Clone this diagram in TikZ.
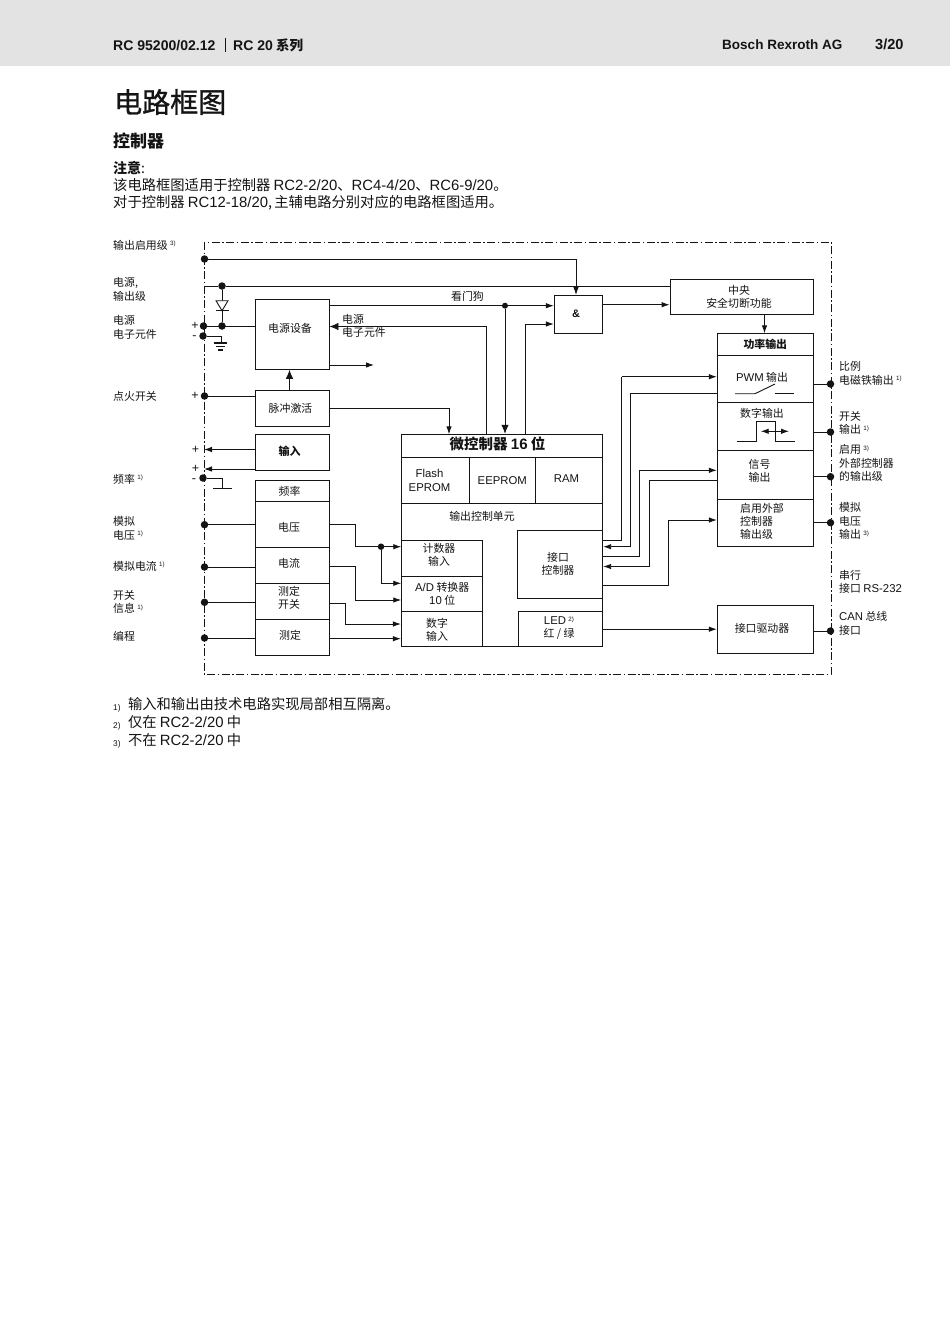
\documentclass[tikz,border=0pt]{standalone}
\usepackage{fontspec}
\setmainfont{Noto Sans CJK SC}
\newfontfamily\latfont[Scale=1.04]{Liberation Sans}
\newfontfamily\titlefont[FakeBold=1.2]{Noto Sans CJK SC}
\usetikzlibrary{arrows.meta}
\definecolor{header_gray}{HTML}{E3E3E3}
\definecolor{ink_black}{HTML}{141414}
\newcommand{\fnote}[1]{\raisebox{3.5pt}{\fontsize{6}{7}\selectfont\latfont #1)}}
\newcommand{\lat}[1]{{\latfont #1}}
\tikzset{
	wire/.style={line width=0.9pt, draw=ink_black},
	flow/.style={wire, -{Latex[length=8pt,width=5.5pt]}},
	bigflow/.style={wire, -{Latex[length=9pt,width=7.5pt]}},
	blockbox/.style={draw=ink_black, line width=0.9pt, inner sep=0pt, minimum width=#1, align=center, text=ink_black,
		font=\fontsize{10.9}{13}\selectfont},
	blockbox/.default=74pt,
	portdot/.style={circle, fill=ink_black, inner sep=0pt, minimum size=7.5pt},
	sidelabel/.style={anchor=west, align=left, inner sep=0pt, text=ink_black, font=\fontsize{10.9}{13.5}\selectfont},
	boxtext/.style={align=center, inner sep=0pt, text=ink_black, font=\fontsize{10.9}{13}\selectfont},
	sign/.style={inner sep=0pt, text=ink_black, font=\fontsize{12}{13}\selectfont\latfont},
	pagetext/.style={anchor=west, align=left, inner sep=0pt, text=ink_black, font=\fontsize{14.3}{17}\selectfont},
}
\begin{document}
\begin{tikzpicture}[x=1pt, y=-1pt]
	\useasboundingbox (0,0) rectangle (950,1344);
	% header band
	\fill [header_gray] (0,0) rectangle (950,66);
	\node [pagetext, font=\fontsize{13.5}{15}\selectfont\bfseries\latfont] (docno) at (113,45.5) {RC 95200/02.12};
	\draw [wire] (225,38) -- (225,52);
	\node [pagetext, font=\fontsize{13.5}{15}\selectfont\bfseries] (series) at (233,45) {\lat{RC 20} 系列};
	\node [pagetext, font=\fontsize{13}{15}\selectfont\bfseries\latfont] (company) at (722,44.5) {Bosch Rexroth AG};
	\node [pagetext, font=\fontsize{14}{15}\selectfont\bfseries\latfont] (pageno) at (875,44.5) {3/20};
	% titles and note
	\node [pagetext, font=\fontsize{28}{32}\selectfont\titlefont] (title) at (114,102) {电路框图};
	\node [pagetext, font=\fontsize{17}{20}\selectfont\bfseries] (subtitle) at (113,141) {控制器};
	\node [pagetext, font=\fontsize{14}{17}\selectfont\bfseries] (notehead) at (113,168) {注意\textmd{:}};
	\node [pagetext] (noteone) at (113,185) {该电路框图适用于控制器 \lat{RC2-2/20}、\lat{RC4-4/20}、\lat{RC6-9/20}。};
	\node [pagetext] (notetwo) at (113,202.5) {对于控制器 \lat{RC12-18/20},\,主辅电路分别对应的电路框图适用。};
	% dash-dot frame
	\draw [line width=0.8pt, draw=ink_black, dash pattern=on 8pt off 2.5pt on 1.5pt off 2.5pt] (204,242) rectangle (831,674);
	% left side blocks
	\node [blockbox, minimum height=70pt] (psu) at (292,334.3) {};
	\node [boxtext] (psutext) at (290,328) {电源设备};
	\node [blockbox, minimum height=36pt] (pulse) at (292,408.7) {};
	\node [boxtext] (pulsetext) at (290.5,408) {脉冲激活};
	\node [blockbox, minimum height=35.7pt] (inbox) at (292,452.2) {};
	\node [boxtext, font=\fontsize{11}{13}\selectfont\bfseries] (inboxtext) at (289.5,451) {输入};
	\node [blockbox, minimum height=21.4pt] (freq) at (292,491) {};
	\node [boxtext] (freqtext) at (289.5,491) {频率};
	\node [blockbox, minimum height=45.6pt] (volt) at (292,524.5) {};
	\node [boxtext] (volttext) at (289,527) {电压};
	\node [blockbox, minimum height=36pt] (curr) at (292,565.3) {};
	\node [boxtext] (currtext) at (289,563) {电流};
	\node [blockbox, minimum height=36.4pt] (swit) at (292,601.5) {};
	\node [boxtext] (swittext) at (289,598) {测定\\开关};
	\node [blockbox, minimum height=35.3pt] (meas) at (292,637.3) {};
	\node [boxtext] (meastext) at (290,635) {测定};
	% microcontroller
	\node [blockbox=201pt, minimum height=23pt] (mcutitle) at (502.2,445.8) {};
	\node [boxtext, font=\fontsize{14.5}{16}\selectfont\bfseries] (mcutext) at (497.5,444) {微控制器 \lat{16} 位};
	\node [blockbox=67.6pt, minimum height=46pt] (flash) at (435.5,480.3) {};
	\node [boxtext, font=\fontsize{10.9}{14}\selectfont\latfont] (flashtext) at (429.5,480) {Flash\\EPROM};
	\node [blockbox=66pt, minimum height=46pt, font=\fontsize{10.9}{13}\selectfont\latfont] (eeprom) at (502.3,480.3) {EEPROM};
	\node [blockbox=67.4pt, minimum height=46pt] (ram) at (569,480.3) {};
	\node [boxtext, font=\fontsize{10.9}{13}\selectfont\latfont] (ramtext) at (566.5,479) {RAM};
	\node [blockbox=201pt, minimum height=143.4pt] (mcubody) at (502.2,575) {};
	\node [boxtext] (ctrlunit) at (482,516) {输出控制单元};
	\node [blockbox=81pt, minimum height=35.6pt] (counter) at (442.2,558.5) {};
	\node [boxtext] (countertext) at (439,554.5) {计数器\\输入};
	\node [blockbox=81pt, minimum height=35.4pt] (adc) at (442.2,594) {\lat{A/D} 转换器\\\lat{10} 位};
	\node [blockbox=81pt, minimum height=35pt, line width=1.5pt] (digin) at (442.2,629.2) {};
	\node [boxtext] (digintext) at (437,630) {数字\\输入};
	\node [blockbox=85pt, minimum height=68pt] (ifc) at (560.2,564.3) {};
	\node [boxtext] (ifctext) at (558,563.5) {接口\\控制器};
	\node [blockbox=84pt, minimum height=35.7pt] (led) at (560.7,628.8) {};
	\node [boxtext] (ledtext) at (559,628) {\lat{LED} \fnote{2}\\红 / 绿};
	% safety chain
	\node [blockbox=48.4pt, minimum height=38.3pt] (andgate) at (578.5,314.2) {};
	\node [boxtext, font=\fontsize{10.5}{12}\selectfont\bfseries\latfont] (andtext) at (576,314) {\&};
	\node [blockbox=143.3pt, minimum height=35.3pt] (safety) at (741.7,296.7) {};
	\node [boxtext] (safetytext) at (739,296.5) {中央\\安全切断功能};
	% power output stack
	\node [blockbox=96pt, minimum height=22pt, font=\fontsize{10.9}{13}\selectfont\bfseries] (powtitle) at (765.3,344.3) {功率输出};
	\node [blockbox=96pt, minimum height=47pt] (pwm) at (765.3,378.8) {};
	\node [boxtext] (pwmtext) at (762,377) {\lat{PWM} 输出};
	\node [blockbox=96pt, minimum height=48pt] (digout) at (765.3,426.3) {};
	\node [boxtext] (digouttext) at (762,413) {数字输出};
	\node [blockbox=96pt, minimum height=48.7pt] (sigout) at (765.3,474.7) {};
	\node [boxtext] (sigouttext) at (759.5,471) {信号\\输出};
	\node [blockbox=96pt, minimum height=47.3pt] (enout) at (765.3,522.7) {};
	\node [boxtext, align=left, anchor=west] (enouttext) at (740,521) {启用外部\\控制器\\输出级};
	\node [blockbox=96pt, minimum height=48.3pt] (canbox) at (765.3,629.2) {};
	\node [boxtext] (cantext) at (762,628) {接口驱动器};
	% ports on the frame
	\node [portdot] (enable) at (204.5,259) {};
	\node [portdot] (powfork) at (222,286) {};
	\node [portdot] (elecplus) at (203.5,326) {};
	\node [portdot] (diodefoot) at (222,326) {};
	\node [portdot] (elecminus) at (203,336) {};
	\node [portdot] (ignition) at (204.5,396) {};
	\node [portdot] (freqminus) at (203,478) {};
	\node [portdot] (voltin) at (204.5,524.7) {};
	\node [portdot] (currin) at (204.5,567) {};
	\node [portdot] (switin) at (204.5,602.3) {};
	\node [portdot] (progin) at (204.5,638) {};
	\node [portdot] (solout) at (830.5,384) {};
	\node [portdot] (switout) at (830.5,432) {};
	\node [portdot] (ctrlout) at (830.5,476.7) {};
	\node [portdot] (voltout) at (830.5,522.7) {};
	\node [portdot] (canout) at (830.5,631) {};
	\node [portdot, minimum size=6pt] (wdfork) at (505,305.7) {};
	\node [portdot, minimum size=6.5pt] (adfork) at (381,546.7) {};
	% free ends of the connectors
	\coordinate (powleft) at (204,286);
	\coordinate (inplusA) at (204,449.5);
	\coordinate (inplusB) at (204,469);
	\coordinate (psuout) at (374,365);
	\coordinate (gndtop) at (221,343);
	\coordinate (chassis) at (222,488.5);
	\coordinate (diodetop) at (222,300.7);
	\coordinate (diodebot) at (222,310.7);
	% power supply wiring
	\draw [flow] (enable) -| (576,295);
	\draw [wire] (powleft) -- (powfork) -- (safety.west |- powfork);
	\draw [wire] (powfork) -- (diodetop);
	\draw [wire] (diodebot) -- (diodefoot);
	\draw [wire, fill=white] (diodebot) -- ++(-6,-10) -- ++(12,0) -- cycle;
	\draw [wire] ([xshift=-6.5pt]diodebot) -- ([xshift=6.5pt]diodebot);
	\draw [wire] (elecplus) -- (psu.west |- elecplus);
	\draw [wire] (elecminus) -| (gndtop);
	\draw [line width=1.4pt, draw=ink_black] (213.5,343) -- (227,343);
	\draw [line width=1.4pt, draw=ink_black] (215.5,346.5) -- (225,346.5);
	\draw [line width=1.4pt, draw=ink_black] (218,350) -- (222.5,350);
	\draw [wire] (freqminus) -| (chassis);
	\draw [line width=1.2pt, draw=ink_black] (213,488.5) -- (232,488.5);
	\draw [flow] (psu.east |- wdfork) -- (wdfork) -- (andgate.west |- wdfork);
	\draw [bigflow] (wdfork) -- (wdfork |- mcutitle.north);
	\draw [bigflow] (486,434.3) |- (psu.east |- 486,326.5);
	\draw [flow] (525.3,434.3) |- (andgate.west |- 525.3,324);
	\draw [flow] (psu.east |- psuout) -- (psuout);
	\draw [bigflow] (pulse.north) ++(-2.5,0) -- ([xshift=-2.5pt]psu.south);
	\draw [wire] (ignition) -- (pulse.west |- ignition);
	\draw [flow] (pulse.east) -| (449,434.3);
	\draw [flow] (inbox.west |- inplusA) -- (inplusA);
	\draw [flow] (inbox.west |- inplusB) -- (inplusB);
	% measuring inputs
	\draw [wire] (voltin) -- (volt.west |- voltin);
	\draw [wire] (currin) -- (curr.west |- currin);
	\draw [wire] (switin) -- (swit.west |- switin);
	\draw [wire] (progin) -- (meas.west |- progin);
	\draw [wire] (volt.east |- voltin) -| (355.3,546.7) -- (adfork);
	\draw [flow] (adfork) -- (counter.west |- adfork);
	\draw [flow] (adfork) |- (adc.west |- 0,583.3);
	\draw [flow] (curr.east |- 0,566.3) -| (355.3,600) -- (adc.west |- 0,600);
	\draw [flow] (swit.east |- 0,603) -| (345.3,624) -- (digin.west |- 0,624);
	\draw [flow] (meas.east |- 0,638.7) -- (digin.west |- 0,638.7);
	% interface controller to the output stack
	\draw [wire] (ifc.east |- 0,540.7) -| (621.5,376.7);
	\draw [flow] (621.5,376.7) -- (pwm.west |- 0,376.7);
	\draw [wire] (pwm.west |- 0,393.3) -| (630,546.7);
	\draw [flow] (630,546.7) -- (ifc.east |- 0,546.7);
	\draw [wire] (ifc.east |- 0,556.7) -| (639.7,470.3);
	\draw [flow] (639.7,470.3) -- (sigout.west |- 0,470.3);
	\draw [wire] (sigout.west |- 0,480) -| (649.3,566.5);
	\draw [flow] (649.3,566.5) -- (ifc.east |- 0,566.5);
	\draw [wire] (ifc.east |- 0,585.7) -| (668.3,520);
	\draw [flow] (668.3,520) -- (enout.west |- 0,520);
	\draw [flow] (led.east |- canbox) -- (canbox.west);
	\draw [flow] (andgate.east |- 0,304.7) -- (safety.west |- 0,304.7);
	\draw [flow] (764.5,314.3) -- (764.5,333.3);
	% outputs to the frame
	\draw [wire] (pwm.east |- solout) -- (solout);
	\draw [wire] (digout.east |- switout) -- (switout);
	\draw [wire] (sigout.east |- ctrlout) -- (ctrlout);
	\draw [wire] (enout.east |- voltout) -- (voltout);
	\draw [wire] (canbox.east |- canout) -- (canout);
	% switch symbol
	\draw [wire] (735,393.7) -- (755,393.7) -- (775,384);
	\draw [wire] (775,393.3) -- (793.7,393.3);
	% pulse symbol
	\draw [wire] (736.7,441.3) -- (756,441.3) -- (756,421.7) -- (775.3,421.7) -- (775.3,441.3) -- (795,441.3);
	\draw [wire, {Latex[length=8pt,width=5.5pt]}-{Latex[length=8pt,width=5.5pt]}] (760.7,431.3) -- (789,431.3);
	% signs at the frame
	\node [sign] (plusA) at (195,325.5) {+};
	\node [sign] (minusA) at (194.5,338) {-};
	\node [sign] (plusB) at (195,396) {+};
	\node [sign] (plusC) at (195.5,449.5) {+};
	\node [sign] (plusD) at (195.5,468.5) {+};
	\node [sign] (minusB) at (194,480.5) {-};
	% left labels
	\node [sidelabel] (lenable) at (113,245) {输出启用级 \fnote{3}};
	\node [sidelabel] (lpower) at (113,289.5) {电源,\\输出级};
	\node [sidelabel] (lelec) at (113,327.5) {电源\\电子元件};
	\node [sidelabel] (lignition) at (113,396) {点火开关};
	\node [sidelabel] (lfreq) at (113,479) {频率 \fnote{1}};
	\node [sidelabel] (lvolt) at (113,528.5) {模拟\\电压 \fnote{1}};
	\node [sidelabel] (lcurr) at (113,566) {模拟电流 \fnote{1}};
	\node [sidelabel] (lswit) at (113,602) {开关\\信息 \fnote{1}};
	\node [sidelabel] (lprog) at (113,636) {编程};
	\node [boxtext, anchor=west, align=left] (lsupply) at (342,326) {电源\\电子元件};
	\node [boxtext] (lwatchdog) at (467.5,296) {看门狗};
	% right labels
	\node [sidelabel] (rsol) at (839,373.5) {比例\\电磁铁输出 \fnote{1}};
	\node [sidelabel] (rswit) at (839,423) {开关\\输出 \fnote{1}};
	\node [sidelabel] (rctrl) at (839,463) {启用 \fnote{3}\\外部控制器\\的输出级};
	\node [sidelabel] (rvolt) at (839,521) {模拟\\电压\\输出 \fnote{3}};
	\node [sidelabel] (rserial) at (839,582) {串行\\接口 \lat{RS-232}};
	\node [sidelabel] (rcan) at (839,623.5) {\lat{CAN} 总线\\接口};
	% footnotes
	\node [pagetext] (footone) at (113,705) {\raisebox{-1pt}{\fontsize{8}{9}\selectfont\latfont 1)}\hspace{7.5pt}输入和输出由技术电路实现局部相互隔离。};
	\node [pagetext] (foottwo) at (113,723) {\raisebox{-1pt}{\fontsize{8}{9}\selectfont\latfont 2)}\hspace{7.5pt}仅在 \lat{RC2-2/20} 中};
	\node [pagetext] (footthree) at (113,741) {\raisebox{-1pt}{\fontsize{8}{9}\selectfont\latfont 3)}\hspace{7.5pt}不在 \lat{RC2-2/20} 中};
\end{tikzpicture}
\end{document}
